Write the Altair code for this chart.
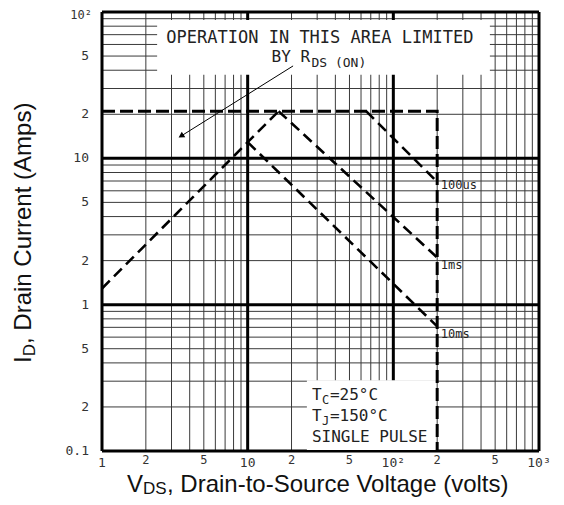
import altair as alt
import pandas as pd

# ---------------- data ----------------
x_major = [1, 10, 100, 1000]
x_minor = [2, 3, 4, 5, 6, 7, 8, 9, 20, 30, 40, 50, 60, 70, 80, 90,
           200, 300, 400, 500, 600, 700, 800, 900]
y_major = [0.1, 1, 10, 100]
y_minor = [0.2, 0.3, 0.4, 0.5, 0.6, 0.7, 0.8, 0.9, 2, 3, 4, 5, 6, 7, 8, 9,
           20, 30, 40, 50, 60, 70, 80, 90]

x_tick_values = [1, 2, 5, 10, 20, 50, 100, 200, 500, 1000]
x_tick_labels = ["1", "2", "5", "10", "2", "5", "10²", "2", "5", "10³"]
y_tick_values = [0.1, 0.2, 0.5, 1, 2, 5, 10, 20, 50]
y_tick_labels = ["0.1", "2", "5", "1", "2", "5", "10", "2", "5"]
y_top_value = [100]
y_top_label = ["10²"]

# SOA boundaries (V_DS in volts, I_D in amps)
rds_vds = [1.0, 16.3]
rds_id = [1.29, 21.0]
limit_vds = [1.0, 200.0, 200.0]
limit_id = [21.0, 21.0, 0.1]
t100us_vds = [65.0, 200.0]
t100us_id = [21.0, 6.9]
t1ms_vds = [16.3, 200.0]
t1ms_id = [21.0, 2.1]
t10ms_vds = [10.0, 200.0]
t10ms_id = [12.9, 0.71]

curve_labels = ["100us", "1ms", "10ms"]
curve_label_vds = [212, 212, 212]
curve_label_id = [6.58, 1.87, 0.63]

# annotation boxes (white background areas)
box_v1 = [2.39, 25.5]
box_v2 = [460, 196]
box_i1 = [37.2, 0.1016]
box_i2 = [88.3, 0.305]

arrow_vds = [20.5, 3.49]
arrow_id = [42.8, 14.2]

# ---------------- scales ----------------
xs = alt.Scale(type="log", domain=[1, 1000], nice=False)
ys = alt.Scale(type="log", domain=[0.1, 100], nice=False)
X = lambda f: alt.X(f, type="quantitative", scale=xs, axis=None)
Y = lambda f: alt.Y(f, type="quantitative", scale=ys, axis=None)

W, H = 437, 439
MONO = "DejaVu Sans Mono"
SANS = "Liberation Sans"

# ---------------- grid ----------------
vminor = alt.Chart(pd.DataFrame({"v": x_minor})).mark_rule(
    color="#3a3a3a", strokeWidth=1).encode(x=X("v"))
hminor = alt.Chart(pd.DataFrame({"i": y_minor})).mark_rule(
    color="#3a3a3a", strokeWidth=1).encode(y=Y("i"))
vmajor = alt.Chart(pd.DataFrame({"v": x_major})).mark_rule(
    color="#000", strokeWidth=3).encode(x=X("v"))
hmajor = alt.Chart(pd.DataFrame({"i": y_major})).mark_rule(
    color="#000", strokeWidth=3).encode(y=Y("i"))

boxes = alt.Chart(pd.DataFrame({"v1": box_v1, "v2": box_v2, "i1": box_i1, "i2": box_i2})).mark_rect(
    color="white").encode(x=X("v1"), x2="v2", y=Y("i1"), y2="i2")

# ---------------- curves ----------------
rows = []
for name, vv, ii in [("rds", rds_vds, rds_id), ("100us", t100us_vds, t100us_id),
                     ("1ms", t1ms_vds, t1ms_id), ("10ms", t10ms_vds, t10ms_id)]:
    for k, (v, i) in enumerate(zip(vv, ii)):
        rows.append({"s": name, "v": v, "i": i, "k": k})
curves = alt.Chart(pd.DataFrame(rows)).mark_line(
    color="black", strokeWidth=2.6, strokeDash=[11, 6]).encode(
    x=X("v"), y=Y("i"), detail="s:N", order="k:Q")

limit = alt.Chart(pd.DataFrame({"v": limit_vds, "i": limit_id, "k": [0, 1, 2]})).mark_line(
    color="black", strokeWidth=3, strokeDash=[13, 5]).encode(
    x=X("v"), y=Y("i"), order="k:Q")

clab = alt.Chart(pd.DataFrame({"t": curve_labels, "v": curve_label_vds, "i": curve_label_id})).mark_text(
    align="left", baseline="middle", font=MONO, fontSize=12, color="#222").encode(
    x=X("v"), y=Y("i"), text="t:N")

# ---------------- annotations ----------------
def txt(t, v, i, size, align="left", font=MONO, color="#222"):
    return alt.Chart(pd.DataFrame({"t": [t], "v": [v], "i": [i]})).mark_text(
        align=align, baseline="middle", font=font, fontSize=size, color=color).encode(
        x=X("v"), y=Y("i"), text="t:N")

ann = [
    txt("OPERATION IN THIS AREA LIMITED", 31.3, 66.5, 17, align="center"),
    txt("BY R", 26.8, 49.3, 16, align="right"),
    txt("DS (ON)", 27.4, 45.0, 13),
    txt("T", 27.6, 0.241, 16),
    txt("C", 32.4, 0.222, 12),
    txt("=25°C", 36.7, 0.241, 16),
    txt("T", 27.6, 0.173, 16),
    txt("J", 32.4, 0.160, 12),
    txt("=150°C", 36.7, 0.173, 16),
    txt("SINGLE PULSE", 27.6, 0.125, 16),
]

arrow_line = alt.Chart(pd.DataFrame({"v": arrow_vds, "i": arrow_id, "k": [0, 1]})).mark_line(
    color="black", strokeWidth=1).encode(x=X("v"), y=Y("i"), order="k:Q")
arrow_head = alt.Chart(pd.DataFrame({"v": arrow_vds[1:], "i": arrow_id[1:]})).mark_point(
    shape="triangle-up", filled=True, size=45, angle=238, color="black", opacity=1).encode(
    x=X("v"), y=Y("i"))

# ---------------- tick labels ----------------
xdf = pd.DataFrame({"v": x_tick_values, "t": x_tick_labels,
                    "major": [v in x_major for v in x_tick_values]})
xlab_major = alt.Chart(xdf[xdf.major]).mark_text(
    align="center", baseline="middle", font=MONO, fontSize=13, color="#333").encode(
    x=X("v"), y=alt.value(H + 12), text="t:N")
xlab_minor = alt.Chart(xdf[~xdf.major]).mark_text(
    align="center", baseline="middle", font=MONO, fontSize=12, color="#333").encode(
    x=X("v"), y=alt.value(H + 9), text="t:N")
ylab = alt.Chart(pd.DataFrame({"i": y_tick_values, "t": y_tick_labels})).mark_text(
    align="right", baseline="middle", font=MONO, fontSize=13, color="#333").encode(
    x=alt.value(-13), y=Y("i"), text="t:N")
ylab_top = alt.Chart(pd.DataFrame({"t": y_top_label})).mark_text(
    align="right", baseline="top", font=MONO, fontSize=12, color="#333").encode(
    x=alt.value(-10), y=alt.value(-2), text="t:N")

# ---------------- axis titles ----------------
def ptxt(t, x, y, size, angle=0):
    return alt.Chart(pd.DataFrame({"t": [t]})).mark_text(
        align="left", baseline="alphabetic", font=SANS, fontSize=size, color="#111",
        angle=angle).encode(x=alt.value(x), y=alt.value(y), text="t:N")

xtitle = [
    ptxt("V", 25, 480, 24),
    ptxt("DS", 41, 482, 17),
    ptxt(", Drain-to-Source Voltage (volts)", 65, 480, 24),
]
ytitle = [
    ptxt("I", -71, 351, 24, angle=270),
    ptxt("D", -67, 344.3, 17, angle=270),
    ptxt(", Drain Current (Amps)", -71, 332, 24, angle=270),
]

chart = alt.layer(
    vminor, hminor, vmajor, hmajor, boxes, limit, curves, clab,
    *ann, arrow_line, arrow_head, xlab_major, xlab_minor, ylab, ylab_top,
    *xtitle, *ytitle
).properties(
    width=W, height=H,
    autosize="none",
    padding={"left": 94, "top": 4, "right": 17, "bottom": 46},
).configure_view(stroke=None).configure(background="white")

chart.save("out.html", embed_options={"renderer": "svg", "actions": False})
